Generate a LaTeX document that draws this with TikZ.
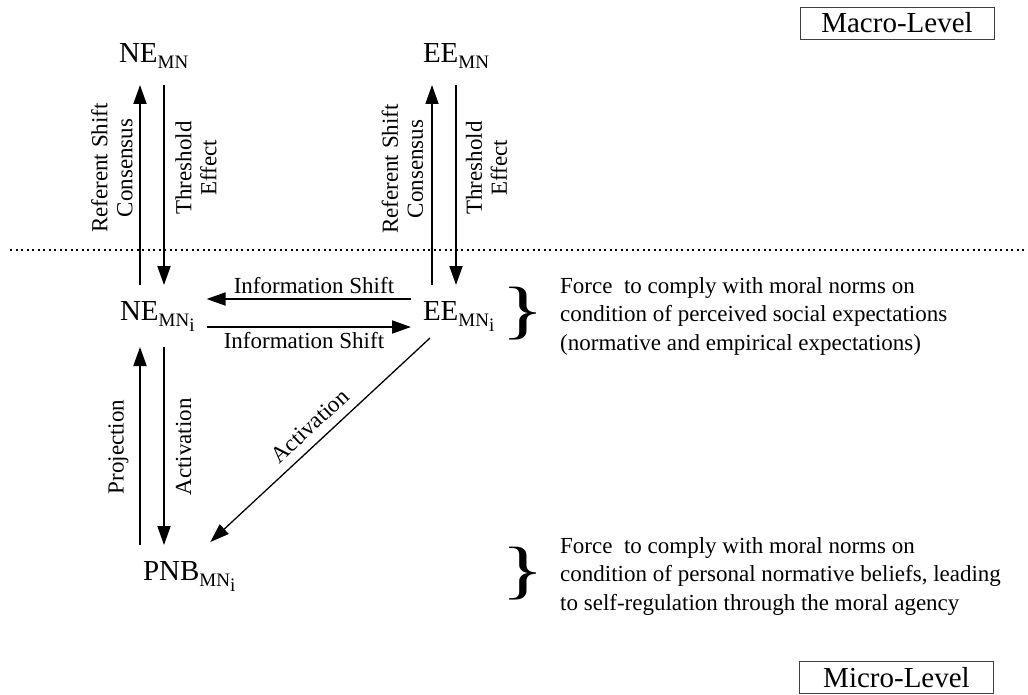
\documentclass[tikz,border=0pt]{standalone}
\usepackage{fontspec}
\usepackage{graphicx}
\setmainfont{Liberation Serif}
\usetikzlibrary{arrows.meta}
\newcommand{\subMN}{\raisebox{-6pt}{\fontsize{19}{19}\selectfont MN}}
\newcommand{\subMNi}{\raisebox{-6pt}{\fontsize{19}{19}\selectfont MN\raisebox{-5pt}{i}}}
\begin{document}
\begin{tikzpicture}[x=1pt,y=-1pt,
  every node/.style={inner sep=0pt},
  big/.style={font=\fontsize{29}{34}\selectfont, anchor=base west, outer xsep=12pt, outer ysep=16pt},
  lab/.style={font=\fontsize{23}{25}\selectfont, align=center},
  txt/.style={font=\fontsize{23}{28.5}\selectfont, align=left, anchor=base west},
  arr/.style={line width=1.8pt, -{Triangle[length=19pt,width=13pt]}},
  lvl/.style={draw=black!75, line width=0.9pt, font=\fontsize{29}{34}\selectfont, minimum width=194pt, minimum height=32pt},
  brc/.style={font=\fontsize{64}{64}\selectfont, anchor=base west}
]
\useasboundingbox (0,0) rectangle (1028,695);

% level boxes
\node[lvl] (macro) at (897,23) {Macro-Level};
\node[lvl] (micro) at (896.5,677.5) {Micro-Level};

% separator
\draw[line width=2pt, dash pattern=on 2pt off 3.5pt] (10,250) -- (1028,250);

% main nodes
\node[big] (ne)  at (107,63)  {NE\subMN};
\node[big] (ee)  at (411,63)  {EE\subMN};
\node[big] (nei) at (108,320) {NE\subMNi};
\node[big] (eei) at (411,320) {EE\subMNi};
\node[big] (pnb) at (131,580) {PNB\subMNi};

% columns and rows
\coordinate (cL) at (140,0);
\coordinate (cR) at (164,0);
\coordinate (dL) at (432,0);
\coordinate (dR) at (456,0);
\coordinate (r1) at (0,299);
\coordinate (r2) at (0,327);

% vertical arrows
\draw[arr] (cL |- nei.north) -- (cL |- ne.south);
\draw[arr] (cR |- ne.south) -- (cR |- nei.north);
\draw[arr] (dL |- eei.north) -- (dL |- ee.south);
\draw[arr] (dR |- ee.south) -- (dR |- eei.north);
\draw[arr] (cL |- pnb.north) -- (cL |- nei.south);
\draw[arr] (cR |- nei.south) -- (cR |- pnb.north);
% horizontal arrows
\draw[arr] (eei.west |- r1) -- (nei.east |- r1);
\draw[arr] (nei.east |- r2) -- (eei.west |- r2);
% diagonal
\draw[arr, line width=1.3pt] ([xshift=19pt,yshift=9pt]eei.south west) -- ([xshift=-37pt,yshift=3pt]pnb.north east);

% labels
\node[lab, rotate=90] (l1) at (112,168) {Referent Shift\\Consensus};
\node[lab, rotate=90] (l2) at (196,168) {Threshold\\Effect};
\node[lab, rotate=90] (l3) at (402.5,169) {Referent Shift\\Consensus};
\node[lab, rotate=90] (l4) at (486.5,168) {Threshold\\Effect};
\node[lab, rotate=90] (l5) at (118.5,447) {Projection};
\node[lab, rotate=90] (l6) at (183.5,447) {Activation};
\node[lab, rotate=43] (l7) at (310,426) {Activation};
\node[lab, anchor=base] (l8) at (314,293) {Information Shift};
\node[lab, anchor=base] (l9) at (304,348) {Information Shift};

% braces and descriptions
\node[brc] (b1) at (501,331.5) {\scalebox{1.4}[1]{\}}};
\node[brc] (b2) at (501,591.5) {\scalebox{1.4}[1]{\}}};
\node[txt] (t1) at (560,350) {Force\ \ to comply with moral norms on\\condition of perceived social expectations\\(normative and empirical expectations)};
\node[txt] (t2) at (560,610) {Force\ \ to comply with moral norms on\\condition of personal normative beliefs, leading\\to self-regulation through the moral agency};
\end{tikzpicture}
\end{document}
